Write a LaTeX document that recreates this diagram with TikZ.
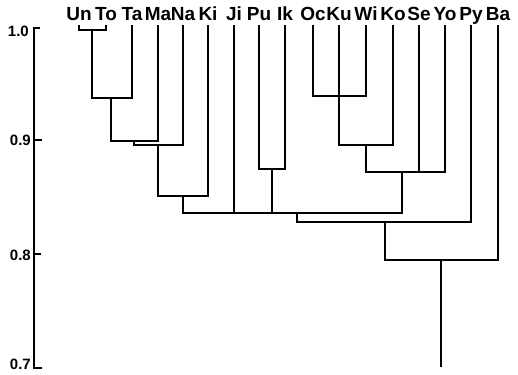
\documentclass[tikz,border=0pt]{standalone}
\usepackage{fontspec}
\setmainfont{Liberation Sans}
\begin{document}
\begin{tikzpicture}[x=1pt,y=-1pt,
  lab/.style={font=\bfseries\fontsize{19}{19}\selectfont, anchor=base, inner sep=0pt},
  ax/.style={font=\bfseries\fontsize{15}{15}\selectfont, anchor=east, inner sep=0pt},
  br/.style={line width=2pt, line cap=rect}]
\useasboundingbox (0,0) rectangle (518,374);
% leaf labels
\foreach \n/\x in {Un/79,To/106,Ta/132,Ma/158,Na/183,Ki/208,Ji/234,Pu/259,Ik/285,Oc/313,Ku/339,Wi/366,Ko/393,Se/419,Yo/445,Py/471,Ba/498}{
  \node[lab] (\n) at (\x,21) {\n};
  \coordinate (t\n) at (\x,26);
}
% internal nodes
\coordinate (m1) at (92,30);
\coordinate (m2) at (111,98);
\coordinate (m3) at (134,141);
\coordinate (m4) at (158,145);
\coordinate (m5) at (183,196);
\coordinate (m6) at (272,169);
\coordinate (m7) at (339,96);
\coordinate (m8) at (366,145);
\coordinate (m9) at (402,172);
\coordinate (m10) at (297,213);
\coordinate (m11) at (385,222);
\coordinate (m12) at (441,260);
\coordinate (root) at (441,366);
% branches
\draw[br] (tUn) |- (m1) -| (tTo);
\draw[br] (m1) |- (m2) -| (tTa);
\draw[br] (m2) |- (m3) -| (tMa);
\draw[br] (m3) |- (m4) -| (tNa);
\draw[br] (m4) |- (m5) -| (tKi);
\draw[br] (tPu) |- (m6) -| (tIk);
\draw[br] (tOc) |- (m7) -| (tWi);
\draw[br] (tKu) |- (m8) -| (tKo);
\draw[br] (m8) |- (m9) -| (tYo);
\draw[br] (tSe) -- (tSe |- m9);
\draw[br] (m5) |- (m10) -| (m9);
\draw[br] (tJi) -- (tJi |- m10);
\draw[br] (m6) -- (m6 |- m10);
\draw[br] (m10) |- (m11) -| (tPy);
\draw[br] (m11) |- (m12) -| (tBa);
\draw[br] (m12) -- (root);
% axis
\coordinate (a10) at (34,28);
\coordinate (a09) at (34,140);
\coordinate (a08) at (34,254);
\coordinate (a07) at (34,368);
\draw[br] (a10) -- (a07);
\draw[br] (a10) -- ++(5,0);
\draw[br] (a09) -- ++(7,0);
\draw[br] (a08) -- ++(6,0);
\draw[br] (a07) -- ++(7,0);
\node[ax] (l10) at (29,31) {1.0};
\node[ax] (l09) at (31,140) {0.9};
\node[ax] (l08) at (31,255) {0.8};
\node[ax] (l07) at (31,364) {0.7};
\end{tikzpicture}
\end{document}
